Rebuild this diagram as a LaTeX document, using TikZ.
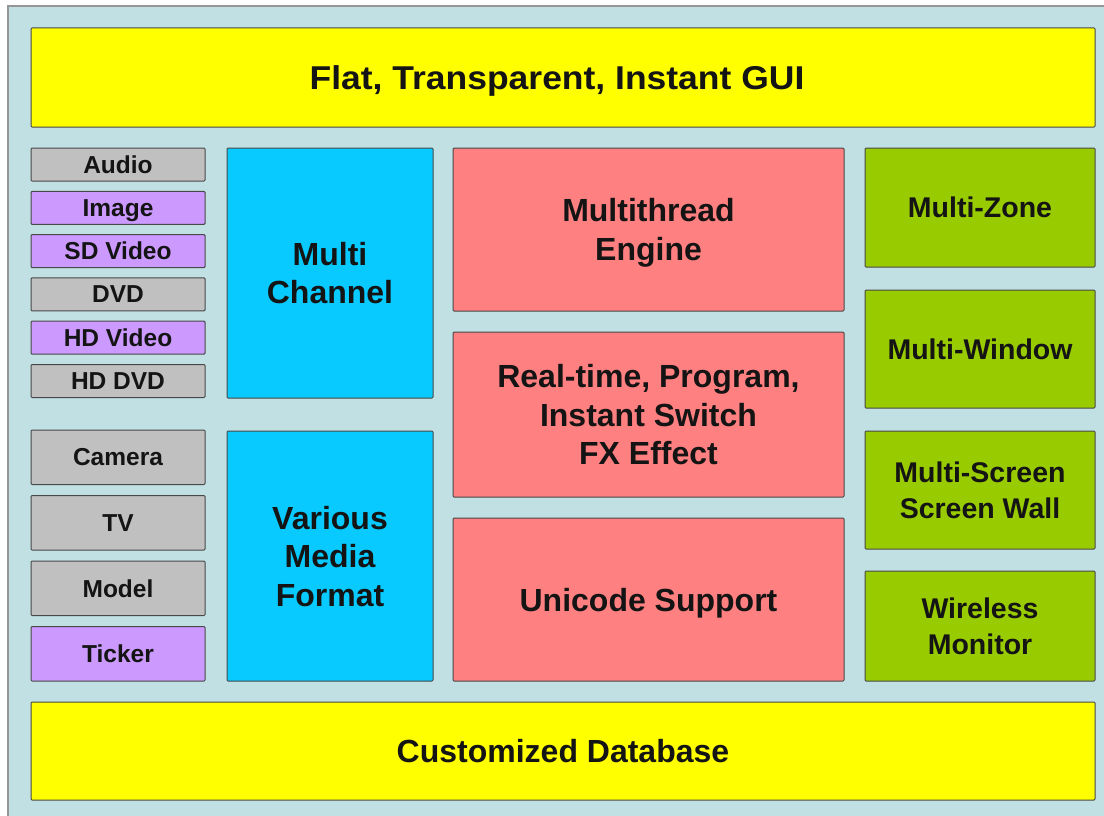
\documentclass[tikz,border=0pt]{standalone}
\usepackage{fontspec}
\setmainfont{Liberation Sans}
\definecolor{bgblue}{RGB}{193,224,228}
\definecolor{framegray}{RGB}{150,150,150}
\definecolor{edgegray}{RGB}{72,72,72}
\definecolor{ylw}{RGB}{255,255,0}
\definecolor{gry}{RGB}{192,192,192}
\definecolor{prp}{RGB}{204,153,255}
\definecolor{cyn}{RGB}{8,202,255}
\definecolor{rdd}{RGB}{255,128,128}
\definecolor{grn}{RGB}{153,204,0}
\definecolor{txt}{RGB}{20,20,20}
\begin{document}
\begin{tikzpicture}[x=1pt,y=-1pt,
  blk/.style={draw=edgegray, line width=1pt, rounded corners=1pt, inner sep=0pt, outer sep=0pt,
    anchor=north west, align=center, text=txt, text depth=0pt},
  huge/.style={blk, font=\fontsize{33}{40}\selectfont\bfseries\addfontfeature{FakeStretch=1.075}},
  big/.style={blk, font=\fontsize{32}{38.5}\selectfont\bfseries},
  mid/.style={blk, font=\fontsize{28.5}{35.7}\selectfont\bfseries},
  sml/.style={blk, font=\fontsize{24.5}{29}\selectfont\bfseries}
]
\useasboundingbox (0,0) rectangle (1104,816);
\fill[white] (0,0) rectangle (1104,816);
\fill[bgblue] (8,6) rectangle (1104,816);
\draw[framegray, line width=1.5pt] (8,816) -- (8,6) -- (1104,6);

% top and bottom bars
\node[huge, fill=ylw, minimum width=1064pt, minimum height=99pt] (gui) at (31,28) {Flat, Transparent, Instant GUI\kern12pt};
\node[big, fill=ylw, minimum width=1064pt, minimum height=98pt] (db) at (31,702) {Customized Database};

% left small column
\node[sml, fill=gry, minimum width=174pt, minimum height=33pt] (audio) at (31,148) {Audio};
\node[sml, fill=prp, minimum width=174pt, minimum height=33pt] (image) at (31,191.3) {Image};
\node[sml, fill=prp, minimum width=174pt, minimum height=33pt] (sdv) at (31,234.6) {SD Video};
\node[sml, fill=gry, minimum width=174pt, minimum height=33pt] (dvd) at (31,277.9) {DVD};
\node[sml, fill=prp, minimum width=174pt, minimum height=33pt] (hdv) at (31,321.2) {HD Video};
\node[sml, fill=gry, minimum width=174pt, minimum height=33pt] (hddvd) at (31,364.5) {HD DVD};

\node[sml, fill=gry, minimum width=174pt, minimum height=54.5pt] (cam) at (31,430) {Camera};
\node[sml, fill=gry, minimum width=174pt, minimum height=54.5pt] (tv) at (31,495.5) {TV};
\node[sml, fill=gry, minimum width=174pt, minimum height=54.5pt] (model) at (31,561) {Model};
\node[sml, fill=prp, minimum width=174pt, minimum height=54.5pt] (ticker) at (31,626.5) {Ticker};

% cyan column
\node[big, fill=cyn, minimum width=206pt, minimum height=250pt] (mch) at (227,148) {Multi\\Channel};
\node[big, fill=cyn, minimum width=206pt, minimum height=250pt] (vmf) at (227,431) {Various\\Media\\Format};

% red column
\node[big, fill=rdd, minimum width=391pt, minimum height=163pt] (mte) at (453,148) {Multithread\\Engine};
\node[big, fill=rdd, minimum width=391pt, minimum height=165pt] (rtp) at (453,332) {Real-time, Program,\\Instant Switch\\FX Effect};
\node[big, fill=rdd, minimum width=391pt, minimum height=163pt] (uni) at (453,518) {Unicode Support};

% green column
\node[mid, fill=grn, minimum width=230pt, minimum height=119pt] (mz) at (865,148) {Multi-Zone};
\node[mid, fill=grn, minimum width=230pt, minimum height=118pt] (mw) at (865,290) {Multi-Window};
\node[mid, fill=grn, minimum width=230pt, minimum height=118pt] (ms) at (865,431) {Multi-Screen\\Screen Wall};
\node[mid, fill=grn, minimum width=230pt, minimum height=110pt] (wm) at (865,571) {Wireless\\Monitor};
\end{tikzpicture}
\end{document}
